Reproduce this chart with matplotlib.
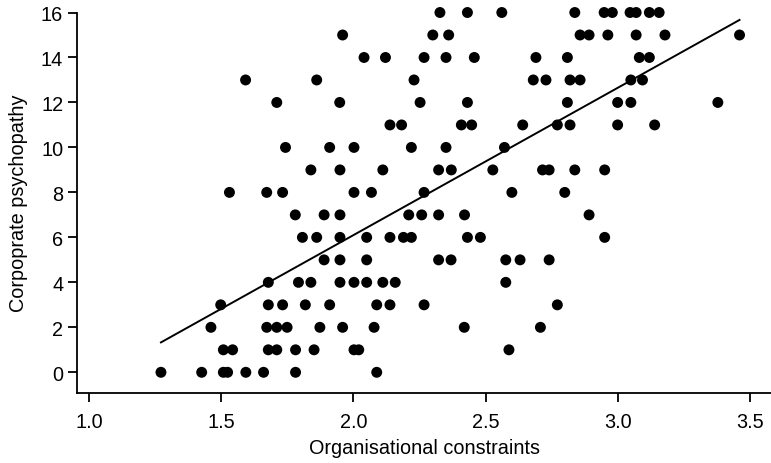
import numpy as np
import matplotlib
matplotlib.use('Agg')
import matplotlib.pyplot as plt

plt.rcParams['font.family'] = ['Liberation Sans', 'DejaVu Sans']

# organisational constraints (x), grouped by psychopathy score
x_by_score = {
    0: [1.272, 1.426, 1.508, 1.524, 1.593, 1.660, 1.781, 2.088],
    1: [1.508, 1.543, 1.678, 1.710, 1.781, 1.851, 2.002, 2.020, 2.588],
    2: [1.461, 1.672, 1.710, 1.749, 1.873, 1.959, 2.078, 2.419, 2.707],
    3: [1.498, 1.678, 1.732, 1.818, 1.910, 2.088, 2.138, 2.267, 2.771],
    4: [1.678, 1.792, 1.839, 1.949, 2.002, 2.050, 2.111, 2.158, 2.576],
    5: [1.889, 1.949, 2.050, 2.322, 2.369, 2.576, 2.630, 2.740],
    6: [1.807, 1.861, 1.949, 2.050, 2.138, 2.189, 2.219, 2.431, 2.480, 2.950],
    7: [1.780, 1.889, 1.949, 2.209, 2.258, 2.322, 2.420, 2.891],
    8: [1.531, 1.672, 1.732, 2.002, 2.068, 2.267, 2.599, 2.799],
    9: [1.839, 1.949, 2.111, 2.322, 2.370, 2.527, 2.715, 2.740, 2.837, 2.950],
    10: [1.743, 1.910, 2.002, 2.219, 2.350, 2.571],
    11: [2.138, 2.182, 2.408, 2.447, 2.640, 2.771, 2.819, 2.999, 3.139],
    12: [1.710, 1.948, 2.252, 2.431, 2.809, 2.999, 3.049, 3.378],
    13: [1.592, 1.861, 2.229, 2.680, 2.728, 2.819, 2.857, 3.049, 3.093],
    14: [2.040, 2.121, 2.267, 2.350, 2.457, 2.690, 2.809, 3.081, 3.119],
    15: [1.959, 2.300, 2.360, 2.857, 2.891, 2.962, 3.069, 3.178, 3.460],
    16: [2.327, 2.431, 2.561, 2.837, 2.948, 2.979, 3.046, 3.069, 3.119, 3.156],
}
constraints = [x for s in x_by_score for x in x_by_score[s]]
psychopathy = [s for s in x_by_score for x in x_by_score[s]]

# fitted regression line
fit_intercept = -7.007
fit_slope = 6.554

xticks = [1.0, 1.5, 2.0, 2.5, 3.0, 3.5]
yticks = [0, 2, 4, 6, 8, 10, 12, 14, 16]

fig = plt.figure(figsize=(7.71, 4.64), dpi=100)
ax = fig.add_axes([0.0999, 0.1509, 0.9001, 0.8200])

ax.scatter(constraints, psychopathy, s=62, c='black', edgecolors='none',
           zorder=3, clip_on=False)

line_x = np.array([min(constraints), max(constraints)])
ax.plot(line_x, fit_intercept + fit_slope * line_x, color='black', lw=1.4)

ax.set_xlim(0.9546, 3.579)
ax.set_ylim(-0.92, 16)
ax.set_xticks(xticks)
ax.set_xticklabels(['%.1f' % t for t in xticks])
ax.set_yticks(yticks)

ax.spines['top'].set_visible(False)
ax.spines['right'].set_visible(False)
for sp in ['left', 'bottom']:
    ax.spines[sp].set_linewidth(1.3)

ax.tick_params(axis='both', labelsize=14.3, width=1.3, length=6.5, color='black')
ax.tick_params(axis='x', pad=7.5)
ax.tick_params(axis='y', pad=3.5)

ax.set_xlabel('Organisational constraints', fontsize=14.3, labelpad=5)
ax.set_ylabel('Corpoprate psychopathy', fontsize=14.3, labelpad=9)

fig.savefig('out.png', dpi=100)
